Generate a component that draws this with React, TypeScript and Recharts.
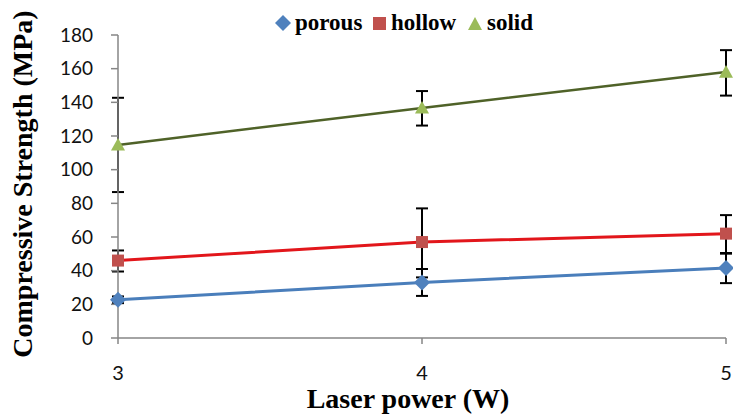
import React from 'react';
import { LineChart, Line, XAxis, YAxis, ErrorBar } from 'recharts';

const laserPower = [3, 4, 5];
const porous = [22.7, 33, 41.6];
const porousErr: [number, number][] = [[2, 2], [8, 8], [9, 8.5]];
const hollow = [46, 57, 62];
const hollowErr: [number, number][] = [[6.5, 6], [21, 20], [11.5, 11]];
const solid = [114.7, 136.7, 158];
const solidErr: [number, number][] = [[28, 28], [10.5, 10], [14, 13]];
const yTicks = [0, 20, 40, 60, 80, 100, 120, 140, 160, 180];

const data = laserPower.map((x, i) => ({
  x,
  porous: porous[i],
  porousErr: porousErr[i],
  hollow: hollow[i],
  hollowErr: hollowErr[i],
  solid: solid[i],
  solidErr: solidErr[i],
}));

const BLUE = '#4F81BD';
const BLUE_LINE = '#4A7EBB';
const RED = '#C0504D';
const RED_LINE = '#E2161B';
const GREEN = '#9BBB59';
const GREEN_LINE = '#4F6228';
const AXIS = '#868686';

const Diamond = (props: any) => {
  const { cx, cy } = props;
  if (cx == null || cy == null) return null;
  const r = 8;
  return <path d={`M${cx},${cy - r}L${cx + r},${cy}L${cx},${cy + r}L${cx - r},${cy}Z`} fill={BLUE} />;
};
const Square = (props: any) => {
  const { cx, cy } = props;
  if (cx == null || cy == null) return null;
  const r = 6;
  return <rect x={cx - r} y={cy - r} width={2 * r} height={2 * r} fill={RED} />;
};
const Triangle = (props: any) => {
  const { cx, cy } = props;
  if (cx == null || cy == null) return null;
  const r = 7;
  return <path d={`M${cx},${cy - r}L${cx + r},${cy + r * 0.8}L${cx - r},${cy + r * 0.8}Z`} fill={GREEN} />;
};

const legendItems = [
  { name: 'porous', color: BLUE, shape: 'diamond', left: 274 },
  { name: 'hollow', color: RED, shape: 'square', left: 370 },
  { name: 'solid', color: GREEN, shape: 'triangle', left: 466 },
];

const LegendOverlay = () => (
  <div style={{ position: 'absolute', top: 9, left: 0, width: 733, height: 30, fontFamily: '"Liberation Serif", serif', fontWeight: 'bold', fontSize: 23, color: '#000' }}>
    {legendItems.map((it) => (
      <div key={it.name} style={{ position: 'absolute', left: it.left, top: 0, display: 'flex', alignItems: 'center', height: 28, whiteSpace: 'nowrap' }}>
        <svg width={18} height={18} style={{ marginRight: 3 }}>
          {it.shape === 'diamond' && <path d="M9,1L17,9L9,17L1,9Z" fill={it.color} />}
          {it.shape === 'square' && <rect x={3} y={3} width={13} height={13} fill={it.color} />}
          {it.shape === 'triangle' && <path d="M9,3L16,16L2,16Z" fill={it.color} />}
        </svg>
        <span>{it.name}</span>
      </div>
    ))}
  </div>
);

const tickFont = { fontFamily: 'Lato, "Open Sans", sans-serif', fontSize: 19, fill: '#111' };

export default function App() {
  return (
    <div style={{ position: 'absolute', left: 0, top: 0, width: 733, height: 414, background: '#fff' }}>
      <LineChart width={733} height={414} data={data} margin={{ top: 35, right: 7, bottom: 0, left: 0 }}>
        <XAxis
          dataKey="x"
          type="number"
          domain={[3, 5]}
          ticks={laserPower}
          height={76}
          stroke={AXIS}
          strokeWidth={1.5}
          tickSize={6}
          tickMargin={22}
          tick={{ ...tickFont, fontSize: 20 }}
          label={{
            content: () => (
              <text x={408} y={408} textAnchor="middle" style={{ fontFamily: '"Liberation Serif", serif', fontWeight: 'bold', fontSize: 28, fill: '#000' }}>
                Laser power (W)
              </text>
            ),
          }}
        />
        <YAxis
          domain={[0, 180]}
          ticks={yTicks}
          width={118}
          stroke={AXIS}
          strokeWidth={1.5}
          tickSize={7}
          tickMargin={18}
          tick={tickFont}
          label={{
            content: () => (
              <text transform="translate(22,184) rotate(-90)" textAnchor="middle" dominantBaseline="central" style={{ fontFamily: '"Liberation Serif", serif', fontWeight: 'bold', fontSize: 28, fill: '#000' }}>
                Compressive Strength (MPa)
              </text>
            ),
          }}
        />
        <Line dataKey="solid" stroke={GREEN_LINE} strokeWidth={2.5} dot={<Triangle />} activeDot={false} isAnimationActive={false}>
          <ErrorBar dataKey="solidErr" width={6} stroke="#000" strokeWidth={2} direction="y" />
        </Line>
        <Line dataKey="hollow" stroke={RED_LINE} strokeWidth={3} dot={<Square />} activeDot={false} isAnimationActive={false}>
          <ErrorBar dataKey="hollowErr" width={6} stroke="#000" strokeWidth={2} direction="y" />
        </Line>
        <Line dataKey="porous" stroke={BLUE_LINE} strokeWidth={3} dot={<Diamond />} activeDot={false} isAnimationActive={false}>
          <ErrorBar dataKey="porousErr" width={6} stroke="#000" strokeWidth={2} direction="y" />
        </Line>
      </LineChart>
      <LegendOverlay />
    </div>
  );
}
